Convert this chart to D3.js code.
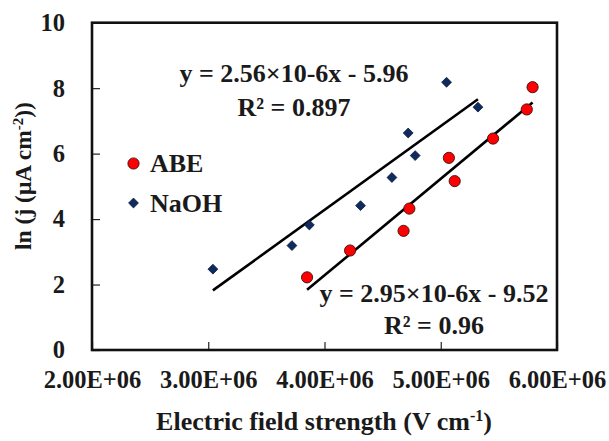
<!DOCTYPE html>
<html>
<head>
<meta charset="utf-8">
<script src="https://cdn.jsdelivr.net/npm/d3@7/dist/d3.min.js"></script>
<style>
  html, body { margin: 0; padding: 0; background: #fff; }
  svg text { font-family: "Liberation Serif", "Times New Roman", serif; font-weight: bold; fill: #1a1a1a; }
</style>
</head>
<body>
<svg id="chart" width="609" height="441"></svg>
<script>
// Electric field strength (V/cm) vs ln of current density
const abeField = [3.85e6, 4.22e6, 4.68e6, 4.73e6, 5.07e6, 5.12e6, 5.45e6, 5.74e6, 5.79e6];
const abeLnJ   = [2.22, 3.04, 3.64, 4.32, 5.87, 5.16, 6.46, 7.35, 8.03];
const naohField = [3.04e6, 3.72e6, 3.87e6, 4.31e6, 4.58e6, 4.72e6, 4.78e6, 5.05e6, 5.32e6];
const naohLnJ   = [2.47, 3.19, 3.82, 4.41, 5.27, 6.63, 5.94, 8.18, 7.42];

// Linear fits: slope, intercept
const abeFit  = { slope: 2.95e-6, intercept: -9.52, r2: "0.96" };
const naohFit = { slope: 2.56e-6, intercept: -5.96, r2: "0.897" };

const xTickValues = [2e6, 3e6, 4e6, 5e6, 6e6];
const yTickValues = [0, 2, 4, 6, 8, 10];

const svg = d3.select("#chart");
const plotL = 92, plotR = 557, plotT = 22.7, plotB = 350;

const x = d3.scaleLinear().domain([2e6, 6e6]).range([plotL, plotR]);
const y = d3.scaleLinear().domain([0, 10]).range([plotB, plotT]);

const fmtE = d => (d / 1e6).toFixed(2) + "E+06";

// axes with inward ticks
const xAxis = svg.append("g")
  .attr("transform", `translate(0,${plotB})`)
  .call(d3.axisBottom(x).tickValues(xTickValues).tickFormat(fmtE).tickSize(-8).tickPadding(21));
const yAxis = svg.append("g")
  .attr("transform", `translate(${plotL},0)`)
  .call(d3.axisLeft(y).tickValues(yTickValues).tickSize(-8).tickPadding(27));

[xAxis, yAxis].forEach(g => {
  g.select(".domain").remove();
  g.selectAll(".tick line").attr("stroke", "#222").attr("stroke-width", 1.2);
  g.selectAll(".tick text").style("font-size", "24.5px").attr("fill", "#1a1a1a");
});

// plot frame
svg.append("rect")
  .attr("x", plotL).attr("y", plotT)
  .attr("width", plotR - plotL).attr("height", plotB - plotT)
  .attr("fill", "none").attr("stroke", "#111").attr("stroke-width", 2.6);

// trend lines over each series' field range
function fitLine(fieldArr, fit) {
  const ext = d3.extent(fieldArr);
  return ext.map(v => [v, fit.slope * v + fit.intercept]);
}
const line = d3.line().x(d => x(d[0])).y(d => y(d[1]));
svg.append("path").datum(fitLine(naohField, naohFit))
  .attr("d", line).attr("stroke", "#000").attr("stroke-width", 2.6).attr("fill", "none");
svg.append("path").datum(fitLine(abeField, abeFit))
  .attr("d", line).attr("stroke", "#000").attr("stroke-width", 2.6).attr("fill", "none");

// markers
const naohPts = naohField.map((v, i) => [v, naohLnJ[i]]);
const abePts = abeField.map((v, i) => [v, abeLnJ[i]]);
const diamond = d3.symbol().type(d3.symbolDiamond2).size(62);

svg.append("g").selectAll("path").data(naohPts).join("path")
  .attr("d", diamond)
  .attr("transform", d => `translate(${x(d[0])},${y(d[1])})`)
  .attr("fill", "#0f2a5c").attr("stroke", "#0a1a3a").attr("stroke-width", 0.8);

svg.append("g").selectAll("circle").data(abePts).join("circle")
  .attr("cx", d => x(d[0])).attr("cy", d => y(d[1])).attr("r", 5.6)
  .attr("fill", "#ff0000").attr("stroke", "#3a1010").attr("stroke-width", 0.9);

// fit equations
function eqText(cx, y1, gap, fit) {
  const t = svg.append("text").attr("text-anchor", "middle").style("font-size", "26px");
  t.append("tspan").attr("x", cx).attr("y", y1)
    .text(`y = ${(fit.slope * 1e6).toFixed(2)}×10-6x - ${(-fit.intercept).toFixed(2)}`);
  t.append("tspan").attr("x", cx).attr("y", y1 + gap)
    .text(`R² = ${fit.r2}`);
}
eqText(294, 81.5, 34, naohFit);
eqText(434, 301.5, 32.5, abeFit);

// legend
svg.append("circle").attr("cx", 133.5).attr("cy", 163.5).attr("r", 5.6)
  .attr("fill", "#ff0000").attr("stroke", "#3a1010").attr("stroke-width", 0.9);
svg.append("text").attr("x", 150).attr("y", 171.5).style("font-size", "26px").text("ABE");
svg.append("path").attr("d", diamond).attr("transform", "translate(133.5,203)")
  .attr("fill", "#0f2a5c").attr("stroke", "#0a1a3a").attr("stroke-width", 0.8);
svg.append("text").attr("x", 150).attr("y", 211.5).style("font-size", "26px").text("NaOH");

// axis titles
const xt = svg.append("text").attr("x", 324).attr("y", 430).attr("text-anchor", "middle")
  .style("font-size", "26px");
xt.append("tspan").text("Electric field strength (V cm");
xt.append("tspan").attr("dy", -9).style("font-size", "16px").text("-1");
xt.append("tspan").attr("dy", 9).text(")");

const yt = svg.append("text").attr("transform", "translate(31,176) rotate(-90)")
  .attr("text-anchor", "middle").style("font-size", "23.5px");
yt.append("tspan").text("ln (j (μA cm");
yt.append("tspan").attr("dy", -8).style("font-size", "15px").text("-2");
yt.append("tspan").attr("dy", 8).text("))");
</script>
</body>
</html>
